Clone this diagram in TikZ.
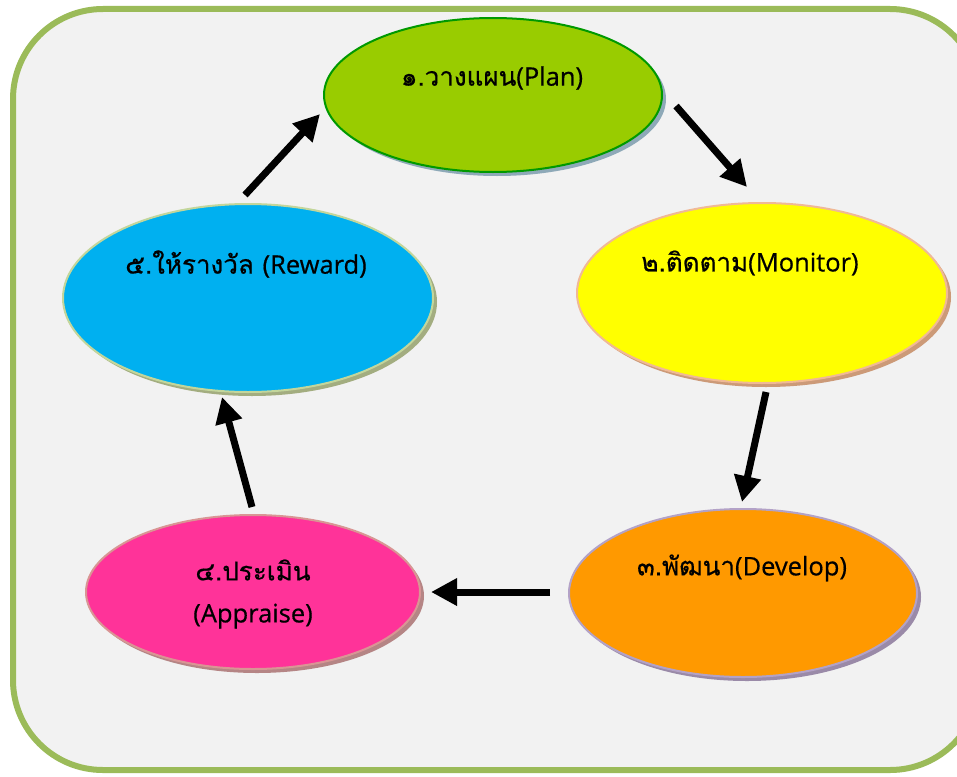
\documentclass[tikz,border=0pt]{standalone}
\usepackage{fontspec}
\setmainfont{Loma}[Script=Thai,FakeBold=0.6]
\newfontfamily\lat{Open Sans}[Scale=0.98,FakeBold=0.6]
\usetikzlibrary{arrows.meta,shapes.geometric}
\definecolor{framegreen}{HTML}{9BBB59}
\definecolor{bg}{HTML}{F2F2F2}
\definecolor{shplan}{HTML}{8EA9B8}
\definecolor{shmon}{HTML}{CC9A78}
\definecolor{shdev}{HTML}{9A8AA8}
\definecolor{shapp}{HTML}{B58585}
\definecolor{shrew}{HTML}{A3AD80}
\definecolor{fplan}{HTML}{99CC00}
\definecolor{dplan}{HTML}{009900}
\definecolor{fmon}{HTML}{FFFF00}
\definecolor{dmon}{HTML}{F0B996}
\definecolor{fdev}{HTML}{FF9900}
\definecolor{ddev}{HTML}{B3A2C7}
\definecolor{fapp}{HTML}{FF3399}
\definecolor{dapp}{HTML}{D99594}
\definecolor{frew}{HTML}{00B0F0}
\definecolor{drew}{HTML}{C3D69B}
\tikzset{
  stage/.style={ellipse, draw, line width=2pt, inner sep=0pt},
  lbl/.style={font=\fontsize{26}{42}\selectfont, align=center, text=black},
  flow/.style={line width=7pt, -{Triangle[length=26pt,width=26pt]}, black},
}
\begin{document}
\begin{tikzpicture}[x=1pt,y=-1pt]
\useasboundingbox (0,0) rectangle (957,776);
\fill[white] (0,0) rectangle (957,776);
\draw[framegreen, line width=6pt, fill=bg, rounded corners=90pt] (13,9) rectangle (980,770);
% shadows
\fill[shplan] (497,99) ellipse [x radius=169pt, y radius=77pt];
\fill[shmon] (766,297) ellipse [x radius=185pt, y radius=90pt];
\fill[shdev] (747,597) ellipse [x radius=174pt, y radius=84pt];
\fill[shapp] (257,596) ellipse [x radius=167pt, y radius=77pt];
\fill[shrew] (252,302) ellipse [x radius=185pt, y radius=94pt];
% ellipses
\node[stage, fill=fplan, draw=dplan, minimum width=338pt, minimum height=154pt] (plan) at (493,95) {};
\node[stage, fill=fmon, draw=dmon, minimum width=370pt, minimum height=180pt] (monitor) at (762,293) {};
\node[stage, fill=fdev, draw=ddev, minimum width=348pt, minimum height=168pt] (develop) at (743,593) {};
\node[stage, fill=fapp, draw=dapp, minimum width=334pt, minimum height=154pt] (appraise) at (253,592) {};
\node[stage, fill=frew, draw=drew, minimum width=370pt, minimum height=188pt] (reward) at (248,298) {};
% labels
\node[lbl] (tplan) at (492,78) {๑.วางแผน{\lat(Plan)}};
\node[lbl] (tmonitor) at (750,263) {๒.ติดตาม{\lat(Monitor)}};
\node[lbl] (tdevelop) at (742,568) {๓.พัฒนา{\lat(Develop)}};
\node[lbl] (tappraise) at (253,594) {๔.ประเมิน\\{\lat(Appraise)}};
\node[lbl] (treward) at (246,264) {๕.ให้รางวัล {\lat(Reward)}};
% arrow ends
\coordinate (a1s) at (676,106); \coordinate (a1e) at (747,187);
\coordinate (a2s) at (766,392); \coordinate (a2e) at (742,502);
\coordinate (a3s) at (550,592); \coordinate (a3e) at (431,592);
\coordinate (a4s) at (252,507); \coordinate (a4e) at (222,397);
\coordinate (a5s) at (245,195); \coordinate (a5e) at (320,114);
\draw[flow] (a1s) -- (a1e);
\draw[flow] (a2s) -- (a2e);
\draw[flow] (a3s) -- (a3e);
\draw[flow] (a4s) -- (a4e);
\draw[flow] (a5s) -- (a5e);
\end{tikzpicture}
\end{document}
